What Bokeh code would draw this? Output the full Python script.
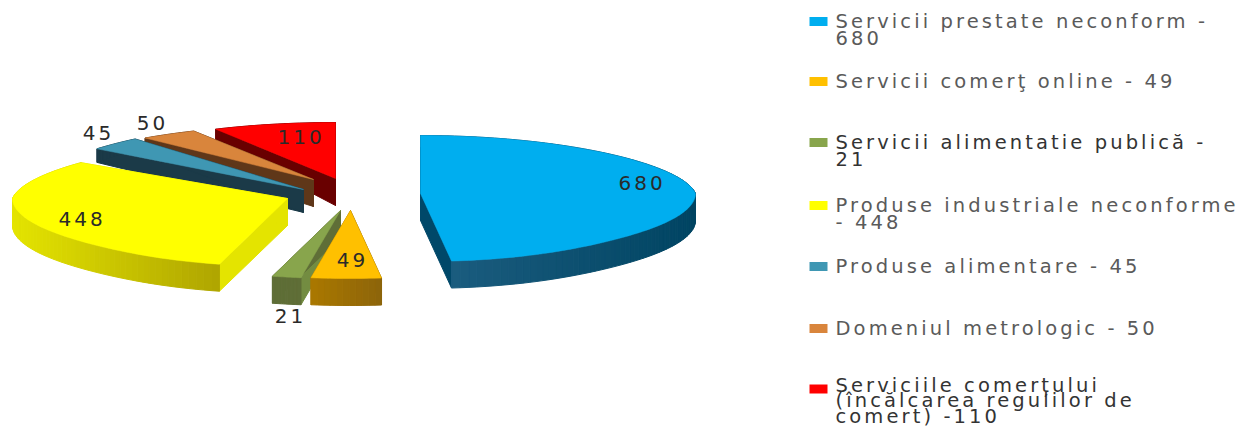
import numpy as np
from bokeh.core.properties import value
from bokeh.embed import file_html
from bokeh.models import ColumnDataSource, Range1d
from bokeh.plotting import figure
from bokeh.resources import INLINE

# Complaint counts per domain
values = [680, 49, 21, 448, 45, 50, 110]
legend_lines = [
    ["Servicii prestate neconform -", "680"],
    ["Servicii comerţ online  - 49"],
    ["Servicii alimentatie publică  -", "21"],
    ["Produse industriale neconforme", "- 448"],
    ["Produse alimentare  - 45"],
    ["Domeniul metrologic  - 50"],
    ["Serviciile comerțului", "(încălcarea regulilor de", "comert) -110"],
]
top_colors = ["#00AEEF", "#FFC000", "#88A54C", "#FFFF00", "#3F97B3", "#D9853C", "#FF0000"]

# Tip of each exploded slice on the canvas
apex_x = [420, 350, 340, 287, 303, 313, 335]
apex_y = [193, 210, 210, 198, 189, 179, 178]
depth_scale = [1.0, 1.0, 1.0, 1.0, 0.85, 1.0, 1.0]
far_radius_y = [58, 56, 56, 59, 67, 55, 56]

# Wall colours: arc gradient (left to right), then the first and last radial edge
arc_left = [(30, 95, 130), (170, 120, 0), (95, 110, 55), (228, 228, 0), (27, 58, 72), (95, 55, 25), (105, 0, 0)]
arc_right = [(0, 68, 98), (140, 100, 10), (95, 110, 55), (175, 165, 0), (27, 58, 72), (95, 55, 25), (105, 0, 0)]
edge_first = [(0, 72, 105), (140, 100, 10), (115, 140, 65), (228, 228, 0), (27, 58, 72), (95, 55, 25), (105, 0, 0)]
edge_last = [(0, 72, 105), (170, 120, 0), (95, 110, 55), (228, 228, 0), (27, 58, 72), (95, 55, 25), (105, 0, 0)]

label_x = [637, 349, 287, 77, 95, 149, 296]
label_y = [182, 259, 315, 218, 132, 122, 136]
legend_first_y = [21, 81, 142, 205, 266, 328, 384.5]
legend_line_step = [16.5, 16.5, 16.5, 16.5, 16.5, 16.5, 15.5]
legend_text_colors = ["#5A5A5A", "#5A5A5A", "#333333", "#5A5A5A", "#5A5A5A", "#5A5A5A", "#333333"]

RX, DEPTH = 275.0, 27.0


def project(t, ry_far):
    """Project a pie angle (degrees clockwise from top) to offsets from the slice tip."""
    w = np.radians(np.asarray(t, dtype=float))
    c = np.cos(w)
    near = np.maximum(-c, 0.0)
    far = np.maximum(c, 0.0)
    # mild perspective: the far rim narrows, the rim nearest the viewer widens
    x = RX * np.sin(w) * (1 - 0.09 * far + 0.18 * near ** 8)
    ry_near = 64 + 4 * near ** 8
    y = np.where(c < 0, -ry_near * c, -ry_far * c)
    return x, y


def depth(dy, scale):
    return scale * np.clip(DEPTH + np.minimum(dy, 0) * 0.27, 8, DEPTH)


def hex_color(c):
    return "#%02x%02x%02x" % tuple(int(round(v)) for v in c)


p = figure(width=1245, height=428, output_backend="svg", toolbar_location=None,
           x_range=Range1d(0, 1245), y_range=Range1d(428, 0), min_border=0,
           outline_line_color=None, background_fill_color="white", border_fill_color="white")
p.axis.visible = False
p.grid.visible = False

edges = np.cumsum([0] + values) / sum(values) * 360.0
draw_order = [6, 5, 4, 3, 2, 1, 0]

for i in draw_order:
    ax, ay, ds = apex_x[i], apex_y[i], depth_scale[i]
    t = np.linspace(edges[i], edges[i + 1], max(12, int(values[i] / 6)))
    dx, dy = project(t, far_radius_y[i])
    X, Y = ax + dx, ay + dy
    D = depth(dy, ds)
    D0 = float(depth(np.array(0.0), ds))

    wx, wy, wc = [], [], []
    # radial edges
    for k, col in ((0, edge_first[i]), (-1, edge_last[i])):
        wx.append([ax, X[k], X[k], ax])
        wy.append([ay, Y[k], Y[k] + D[k], ay + D0])
        wc.append(hex_color(col))
    # outer wall, split into strips for the shading
    lo, hi = X.min(), X.max()
    for k in range(len(t) - 1):
        f = ((X[k] + X[k + 1]) / 2 - lo) / max(hi - lo, 1)
        col = np.array(arc_left[i]) * (1 - f) + np.array(arc_right[i]) * f
        wx.append([X[k], X[k + 1], X[k + 1], X[k]])
        wy.append([Y[k], Y[k + 1], Y[k + 1] + D[k + 1], Y[k] + D[k]])
        wc.append(hex_color(col))
    p.patches(source=ColumnDataSource(dict(xs=wx, ys=wy, c=wc)), xs="xs", ys="ys",
              fill_color="c", line_color="c", line_width=1)
    p.patch(list(np.r_[ax, X]), list(np.r_[ay, Y]), fill_color=top_colors[i], line_color=top_colors[i], line_width=0.5)

p.text(label_x, label_y, text=[str(v) for v in values], text_font=value("DejaVu Sans"),
       text_font_size="20px", text_color="#2A2A2A", text_align="center", text_baseline="middle")

# Legend: colour chip plus wrapped entry text
for i, lines in enumerate(legend_lines):
    y0 = legend_first_y[i]
    p.rect([818], [y0 if i < 6 else y0 + 4], width=18, height=9, fill_color=top_colors[i], line_color=None)
    ys = [y0 + n * legend_line_step[i] for n in range(len(lines))]
    p.text([835] * len(lines), ys, text=lines, text_font=value("DejaVu Sans"),
           text_font_size="19.5px", text_color=legend_text_colors[i],
           text_align="left", text_baseline="middle")

html = file_html(p, INLINE)
# Wide tracking for all chart text; the property inherits into the figure's shadow tree
html = html.replace("<head>", "<head><style>body{margin:0;letter-spacing:3.1px}</style>", 1)
open("out.html", "w").write(html)
